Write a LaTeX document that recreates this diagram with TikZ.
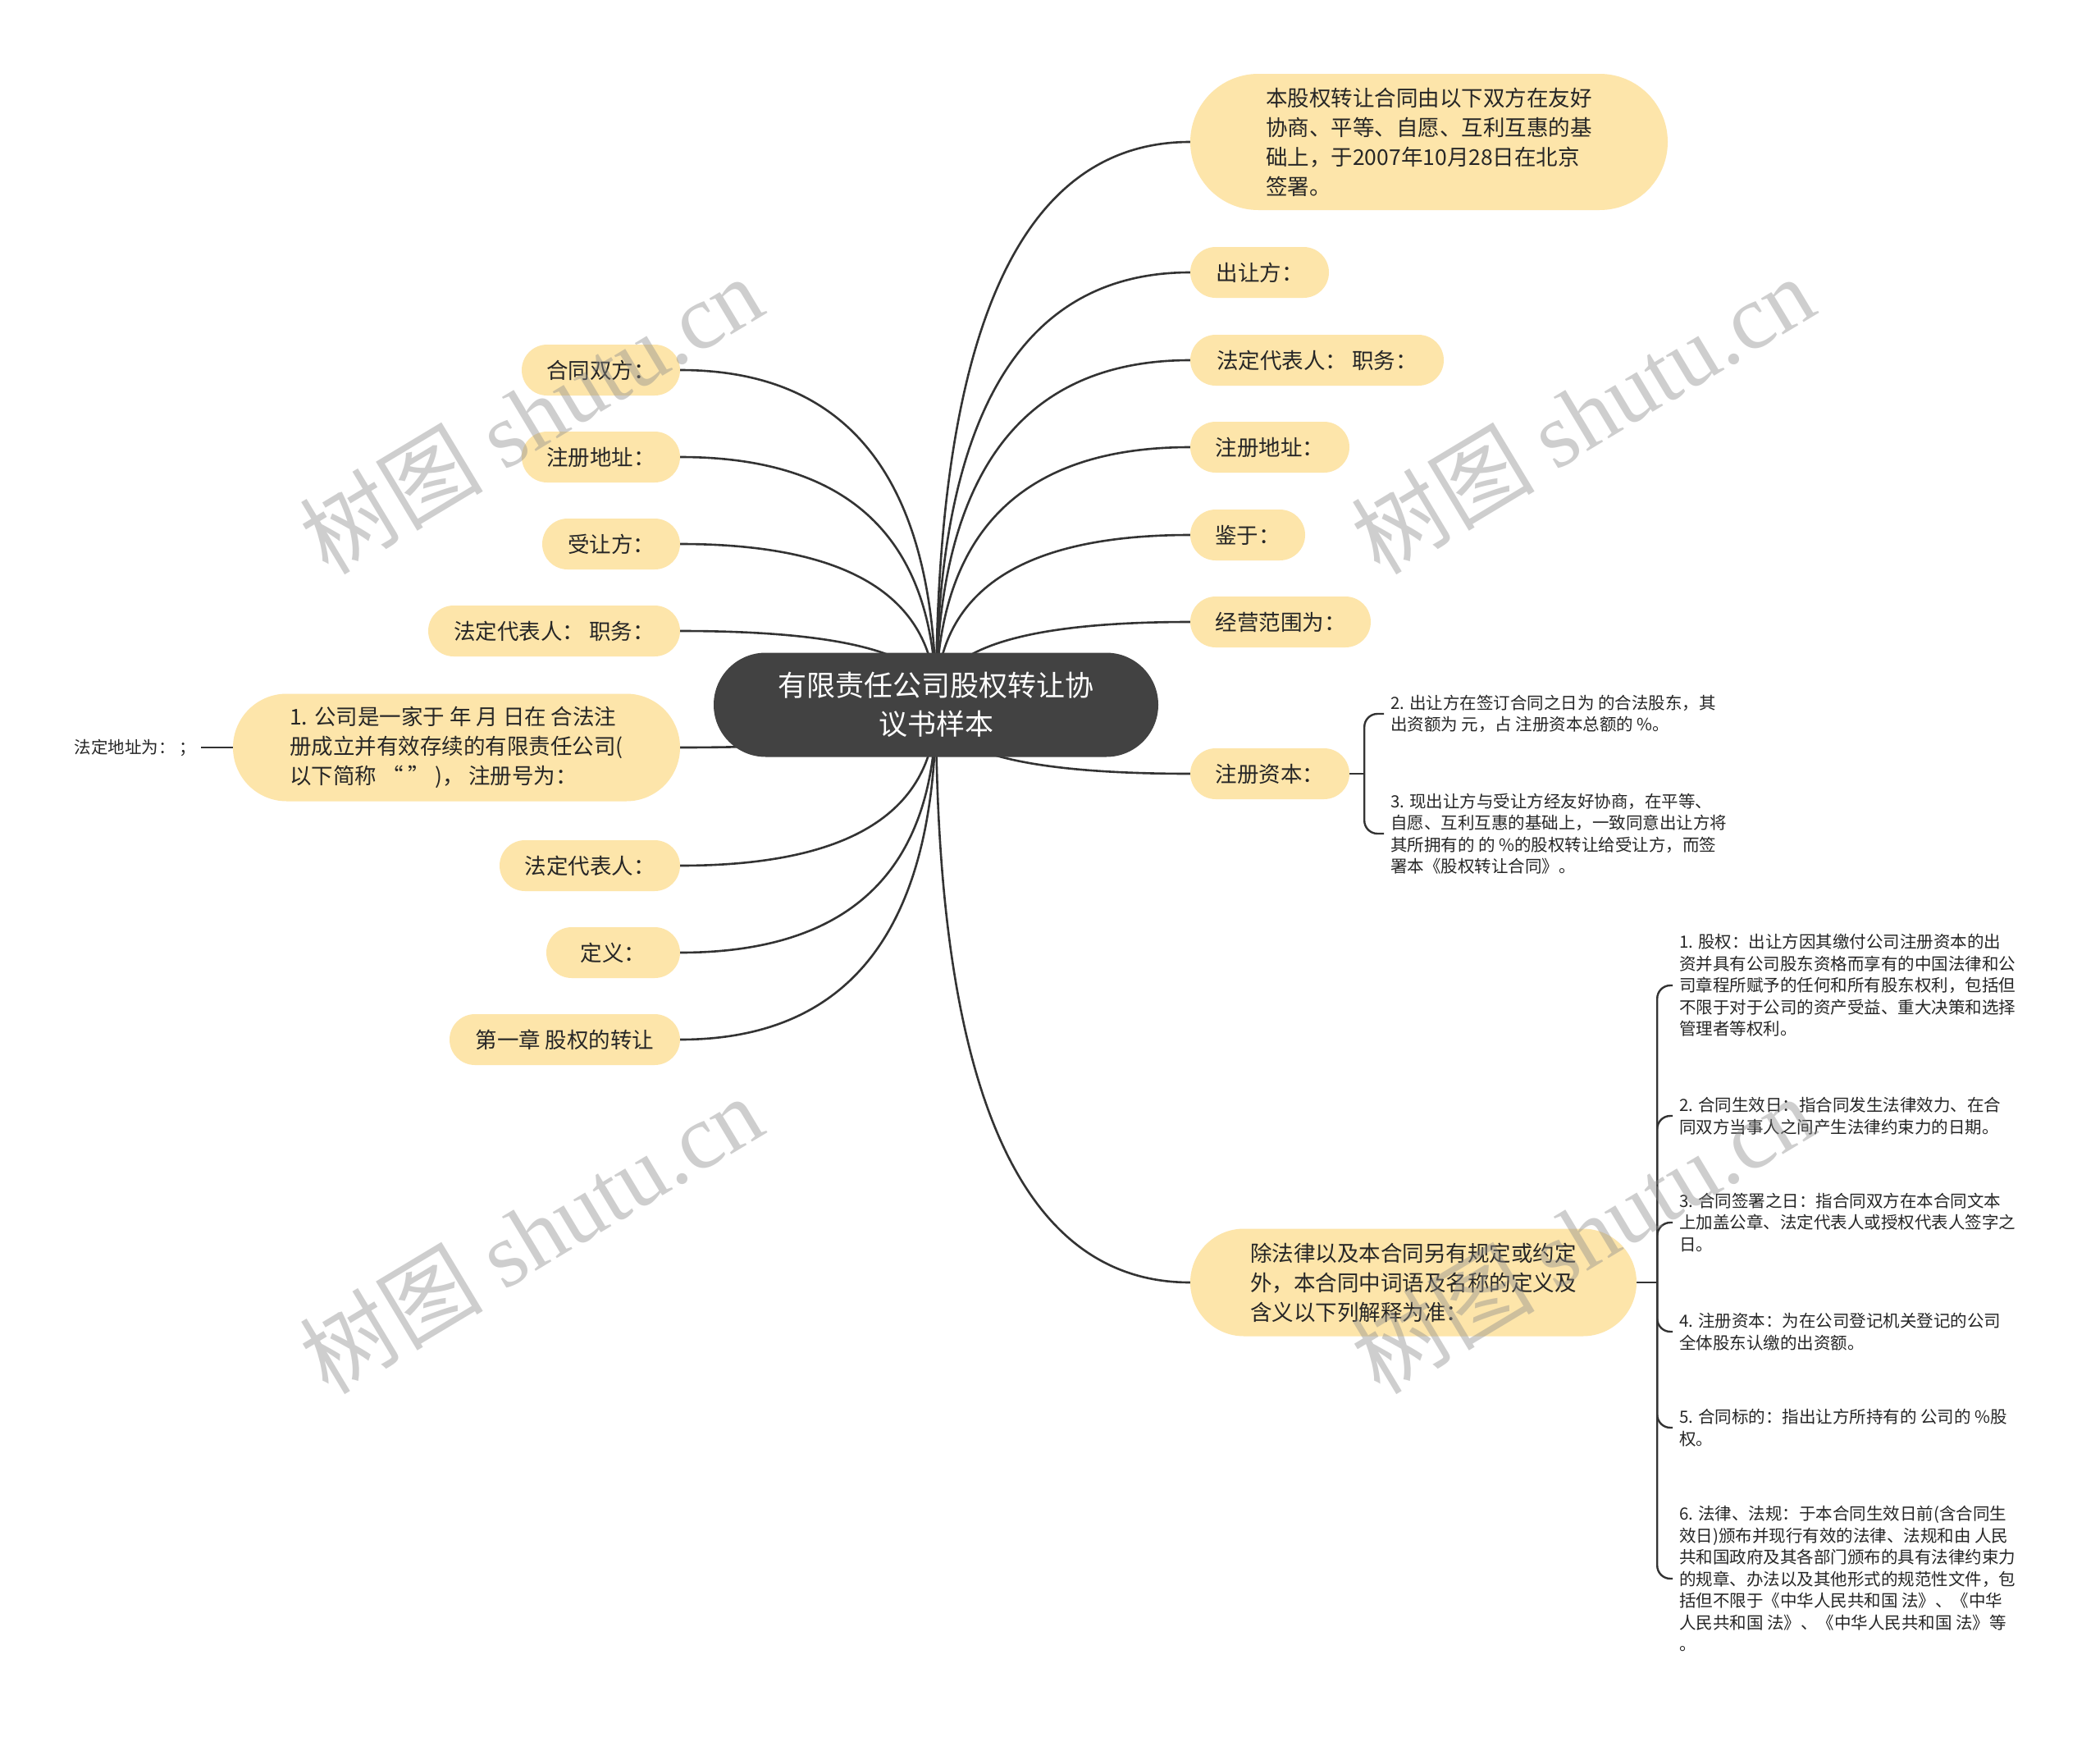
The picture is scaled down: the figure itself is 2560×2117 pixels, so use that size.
\documentclass[tikz,border=0pt]{standalone}
\usepackage{fontspec}
\setmainfont{Noto Sans CJK SC}
\newfontfamily\wmlatin{Liberation Serif}
\usetikzlibrary{calc,backgrounds}
\definecolor{pillfill}{HTML}{FDE5AA}
\definecolor{rootfill}{HTML}{424242}
\definecolor{linec}{HTML}{333333}
\definecolor{txtc}{HTML}{262626}
\definecolor{wmc}{HTML}{8C8C8C}
\tikzset{
  pill/.style n args={3}{fill=pillfill, text=txtc, font=\fontsize{26.5}{36}\selectfont, align=left, inner sep=0pt, minimum width=#1pt, minimum height=#2pt, rounded corners=#3pt},
  rootbox/.style={fill=rootfill, text=white, font=\fontsize{35}{47}\selectfont, align=center, inner sep=0pt, minimum width=542pt, minimum height=127pt, rounded corners=63.5pt},
  leaf/.style={text=txtc, font=\fontsize{20.5}{26.5}\selectfont, align=left, inner xsep=8pt, inner ysep=0pt, anchor=west},
  conn/.style={draw=linec, line width=2.6pt, to path={.. controls ($(\tikztostart)!0.6667!(\tikztostart|-\tikztotarget)$) and ($(\tikztotarget)!0.6667!(\tikztostart|-\tikztotarget)$) .. (\tikztotarget)}},
  bline/.style={draw=linec, line width=2.4pt},
  hook/.style={draw=linec, line width=2.4pt, rounded corners=16pt},
  wmark/.style={text=wmc, opacity=0.42, rotate=31, font=\fontsize{112}{112}\selectfont, inner sep=0pt}
}
\begin{document}
\begin{tikzpicture}[x=1pt,y=-1pt]
\useasboundingbox (0,0) rectangle (2560,2117);
% root
\node[rootbox] (c) at (1141,859) {有限责任公司股权转让协\\议书样本};
% right topics
\node[pill={582}{166}{83}] (r1) at (1742,173) {本股权转让合同由以下双方在友好\\协商、平等、自愿、互利互惠的基\\础上，于2007年10月28日在北京\\签署。};
\node[pill={169}{62}{31}] (r2) at (1535.5,332) {出让方：};
\node[pill={309}{62}{31}] (r3) at (1605.5,439) {法定代表人： 职务：};
\node[pill={194}{62}{31}] (r4) at (1548,545) {注册地址：};
\node[pill={140}{62}{31}] (r5) at (1521,652) {鉴于：};
\node[pill={220}{62}{31}] (r6) at (1561,758) {经营范围为：};
\node[pill={194}{62}{31}] (r7) at (1548,943) {注册资本：};
\node[pill={544}{131}{65.5}] (r8) at (1723,1563) {除法律以及本合同另有规定或约定\\外，本合同中词语及名称的定义及\\含义以下列解释为准：};
% left topics
\node[pill={193}{62}{31}] (l1) at (732.5,451) {合同双方：};
\node[pill={193}{62}{31}] (l2) at (732.5,557) {注册地址：};
\node[pill={168}{62}{31}] (l3) at (745,663) {受让方：};
\node[pill={307}{62}{31}] (l4) at (675.5,769) {法定代表人： 职务：};
\node[pill={545}{131}{65.5}] (l5) at (556.5,911) {1. 公司是一家于 年 月 日在 合法注\\册成立并有效存续的有限责任公司(\\以下简称 “ ” )， 注册号为：};
\node[pill={220}{62}{31}] (l6) at (719,1055) {法定代表人：};
\node[pill={163}{62}{31}] (l7) at (747.5,1161) {定义：};
\node[pill={281}{62}{31}] (l8) at (688.5,1267) {第一章 股权的转让};
% leaves
\node[leaf, anchor=east, inner xsep=6pt] (f1) at (245,911) {法定地址为： ；};
\node[leaf] (z1) at (1687,870) {2. 出让方在签订合同之日为 的合法股东，其\\出资额为 元，占 注册资本总额的 \%。};
\node[leaf] (z2) at (1687,1016) {3. 现出让方与受让方经友好协商，在平等、\\自愿、互利互惠的基础上，一致同意出让方将\\其所拥有的 的 \%的股权转让给受让方，而签\\署本《股权转让合同》。};
\node[leaf] (d1) at (2039,1201) {1. 股权：出让方因其缴付公司注册资本的出\\资并具有公司股东资格而享有的中国法律和公\\司章程所赋予的任何和所有股东权利，包括但\\不限于对于公司的资产受益、重大决策和选择\\管理者等权利。};
\node[leaf] (d2) at (2039,1360) {2. 合同生效日：指合同发生法律效力、在合\\同双方当事人之间产生法律约束力的日期。};
\node[leaf] (d3) at (2039,1490) {3. 合同签署之日：指合同双方在本合同文本\\上加盖公章、法定代表人或授权代表人签字之\\日。};
\node[leaf] (d4) at (2039,1623) {4. 注册资本：为在公司登记机关登记的公司\\全体股东认缴的出资额。};
\node[leaf] (d5) at (2039,1740) {5. 合同标的：指出让方所持有的 公司的 \%股\\权。};
\node[leaf] (d6) at (2039,1924) {6. 法律、法规：于本合同生效日前(含合同生\\效日)颁布并现行有效的法律、法规和由 人民\\共和国政府及其各部门颁布的具有法律约束力\\的规章、办法以及其他形式的规范性文件，包\\括但不限于《中华人民共和国 法》、《中华\\人民共和国 法》、《中华人民共和国 法》等\\。};
% junctions
\coordinate (j7) at ($(r7.east)+(18,0)$);
\coordinate (j8) at ($(r8.east)+(25,0)$);
\begin{scope}[on background layer]
\fill[white] (0,0) rectangle (2560,2117);
\foreach \n in {r1,r2,r3,r4,r5,r6,r7,r8} {\draw[conn] (c.center) to (\n.west);}
\foreach \n in {l1,l2,l3,l4,l5,l6,l7,l8} {\draw[conn] (c.center) to (\n.east);}
\draw[bline] (l5.west) -- (f1.east);
\draw[bline] (r7.east) -- (j7);
\draw[hook] (j7) |- (z1.west);
\draw[hook] (j7) |- (z2.west);
\draw[bline] (r8.east) -- (j8);
\foreach \n in {d1,d2,d3,d4,d5,d6} {\draw[hook] (j8) |- (\n.west);}
\end{scope}
% watermarks
\node[wmark] (w1) at (647,505) {树图 {\wmlatin shutu.cn}};
\node[wmark] (w2) at (1929,505) {树图 {\wmlatin shutu.cn}};
\node[wmark] (w3) at (647,1504) {树图 {\wmlatin shutu.cn}};
\node[wmark] (w4) at (1929,1504) {树图 {\wmlatin shutu.cn}};
\end{tikzpicture}
\end{document}
